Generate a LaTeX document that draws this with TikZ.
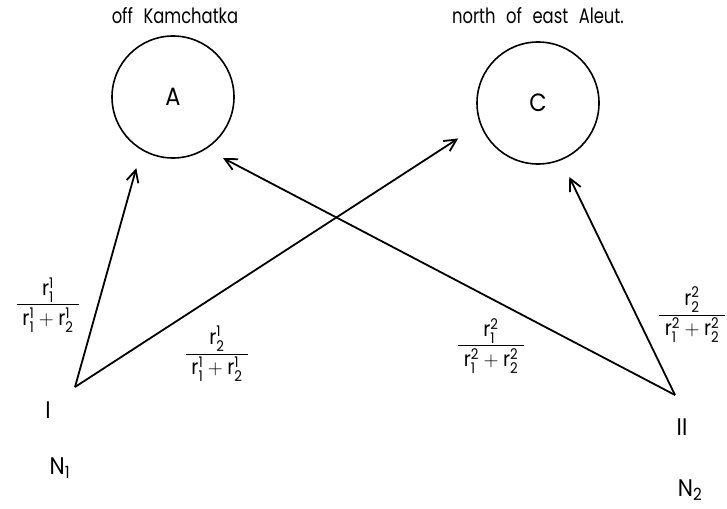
\documentclass[tikz,border=0pt]{standalone}
\usepackage{amsmath}
\usepackage{fontspec}
\setmainfont{Poppins}[FakeStretch=0.9]
\newfontfamily\narrowfont{Poppins}[FakeStretch=0.78]
\usepackage{tikz}
\usetikzlibrary{arrows.meta}
\newcommand{\rsym}[2]{\text{r}_{\text{#1}}^{\text{#2}}}
\newcommand{\share}[2]{$\dfrac{\rsym{#1}{#2}}{\;\rsym{1}{#2}+\rsym{2}{#2}\;}$}
\newcommand{\widewords}{\spaceskip 0.5em\relax}

\begin{document}
\begin{tikzpicture}[
		x=1pt, y=-1pt,
		>={Straight Barb[length=12pt,width=12pt]},
		area/.style={draw, circle, line width=1.6pt, minimum size=122pt,
			inner sep=0pt, outer sep=0pt, font=\fontsize{25}{30}\selectfont},
		region/.style={font=\narrowfont\fontsize{21}{25}\selectfont\widewords},
		flow/.style={->, line width=1.8pt},
		share/.style={inner sep=0pt, font=\fontsize{21}{25}\selectfont},
		site/.style={font=\fontsize{24}{28}\selectfont}
	]
	\useasboundingbox (0,0) rectangle (727,508);

	\node[area] (A) at (173,97) {A};
	\node[area] (C) at (538,103) {C};
	\node[region] (tA) at (175,16) {off Kamchatka};
	\node[region] (tC) at (538,16) {north of east Aleut.};

	\coordinate (I) at (75,387);
	\coordinate (II) at (675,395);

	\draw[flow, shorten >=19.6pt] (I) -- (A.-121);
	\draw[flow, shorten >=26.8pt] (I) -- (C.200);
	\draw[flow, shorten >=20pt] (II) -- (A.-58);
	\draw[flow, shorten >=19.3pt] (II) -- (C.-68);

	\node[share] (fIA) at (48,305) {\share{1}{1}};
	\node[share] (fIC) at (217,354) {\share{2}{1}};
	\node[share] (fIIA) at (491,346) {\share{1}{2}};
	\node[share] (fIIC) at (692,315) {\share{2}{2}};

	\node[site] (labI) at (48,410) {I};
	\node[site] (labII) at (682,427) {II};
	\node[site] (nI) at (60,468) {N$_{\text{1}}$};
	\node[site] (nII) at (690,490) {N$_{\text{2}}$};
\end{tikzpicture}
\end{document}
